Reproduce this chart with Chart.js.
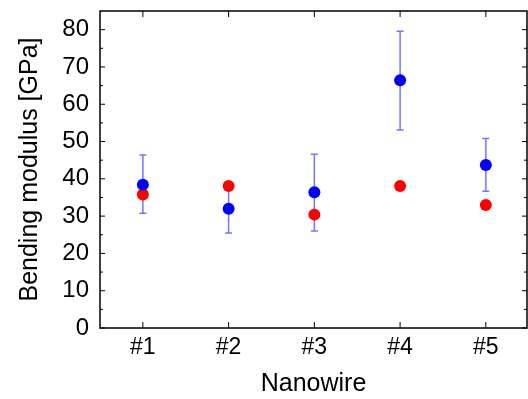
<!DOCTYPE html>
<html>
<head>
<meta charset="utf-8">
<script src="https://cdn.jsdelivr.net/npm/chart.js@4/dist/chart.umd.min.js"></script>
<style>
  html, body { margin: 0; padding: 0; background: #fff; }
  #wrap { width: 528px; height: 399px; }
</style>
</head>
<body>
<div id="wrap"><canvas id="chart"></canvas></div>
<script>
// datos
const nanowires = ['#1', '#2', '#3', '#4', '#5'];
const blueValues = [38.4, 32.0, 36.4, 66.4, 43.7];
const blueErrLow = [30.8, 25.5, 26.0, 53.1, 36.7];
const blueErrHigh = [46.4, 38.1, 46.6, 79.6, 50.8];
const redValues = [35.8, 38.1, 30.4, 38.1, 33.0];
const yTicks = [0, 10, 20, 30, 40, 50, 60, 70, 80];

const fontFam = '"Liberation Sans", Arial, sans-serif';

// barras de error
const errorBars = {
  id: 'errorBars',
  beforeDatasetsDraw(chart) {
    const { ctx, scales: { x, y } } = chart;
    ctx.save();
    ctx.strokeStyle = 'rgba(70, 70, 255, 0.75)';
    ctx.lineWidth = 1.5;
    nanowires.forEach((n, i) => {
      const px = x.getPixelForValue(i + 1);
      const top = y.getPixelForValue(blueErrHigh[i]);
      const bot = y.getPixelForValue(blueErrLow[i]);
      ctx.beginPath();
      ctx.moveTo(px, top); ctx.lineTo(px, bot);
      ctx.moveTo(px - 3.5, top); ctx.lineTo(px + 3.5, top);
      ctx.moveTo(px - 3.5, bot); ctx.lineTo(px + 3.5, bot);
      ctx.stroke();
    });
    ctx.restore();
  }
};

// marco con ticks hacia adentro
const frame = {
  id: 'frame',
  afterDraw(chart) {
    const { ctx, chartArea: a, scales: { x, y } } = chart;
    ctx.save();
    ctx.strokeStyle = '#000';
    ctx.lineWidth = 1;
    ctx.beginPath();
    yTicks.forEach(v => {
      const py = y.getPixelForValue(v);
      ctx.moveTo(a.left, py); ctx.lineTo(a.left + 5, py);
      ctx.moveTo(a.right, py); ctx.lineTo(a.right - 5, py);
      const pm = y.getPixelForValue(v + 5);
      if (v + 5 < y.max) {
        ctx.moveTo(a.left, pm); ctx.lineTo(a.left + 3, pm);
        ctx.moveTo(a.right, pm); ctx.lineTo(a.right - 3, pm);
      }
    });
    nanowires.forEach((n, i) => {
      const px = x.getPixelForValue(i + 1);
      ctx.moveTo(px, a.bottom); ctx.lineTo(px, a.bottom - 6);
      ctx.moveTo(px, a.top); ctx.lineTo(px, a.top + 6);
    });
    ctx.stroke();
    ctx.lineWidth = 1.5;
    ctx.strokeRect(a.left, a.top, a.right - a.left, a.bottom - a.top);
    ctx.restore();
  }
};

new Chart(document.getElementById('chart'), {
  type: 'scatter',
  data: {
    datasets: [
      {
        data: blueValues.map((v, i) => ({ x: i + 1, y: v })),
        backgroundColor: '#0000ff',
        borderColor: '#0000ff',
        pointRadius: 6,
        pointBorderWidth: 0
      },
      {
        data: redValues.map((v, i) => ({ x: i + 1, y: v })),
        backgroundColor: '#ff0000',
        borderColor: '#ff0000',
        pointRadius: 6,
        pointBorderWidth: 0
      }
    ]
  },
  options: {
    responsive: true,
    maintainAspectRatio: false,
    animation: false,
    layout: { autoPadding: false, padding: { top: 11, right: 1, left: 0, bottom: 0 } },
    plugins: { legend: { display: false }, tooltip: { enabled: false } },
    scales: {
      x: {
        type: 'linear',
        min: 0.5,
        max: 5.48,
        afterBuildTicks: s => { s.ticks = nanowires.map((n, i) => ({ value: i + 1 })); },
        afterFit: s => { s.height = 71; s.paddingLeft = 0; s.paddingRight = 0; },
        grid: { display: false, drawTicks: false },
        border: { display: false },
        ticks: {
          color: '#000',
          padding: 6,
          font: { family: fontFam, size: 23 },
          callback: v => nanowires[v - 1]
        },
        title: {
          display: true,
          text: 'Nanowire',
          color: '#000',
          padding: { top: 0, bottom: 0 },
          font: { family: fontFam, size: 25 }
        }
      },
      y: {
        min: 0,
        max: 85,
        afterBuildTicks: s => { s.ticks = yTicks.map(v => ({ value: v })); },
        afterFit: s => { s.width = 100; s.paddingTop = 0; s.paddingBottom = 0; },
        grid: { display: false, drawTicks: false },
        border: { display: false },
        ticks: {
          color: '#000',
          padding: 11,
          font: { family: fontFam, size: 24 }
        },
        title: {
          display: true,
          text: 'Bending modulus [GPa]',
          color: '#000',
          padding: { top: 15, bottom: 0 },
          font: { family: fontFam, size: 25 }
        }
      }
    }
  },
  plugins: [errorBars, frame]
});
</script>
</body>
</html>
